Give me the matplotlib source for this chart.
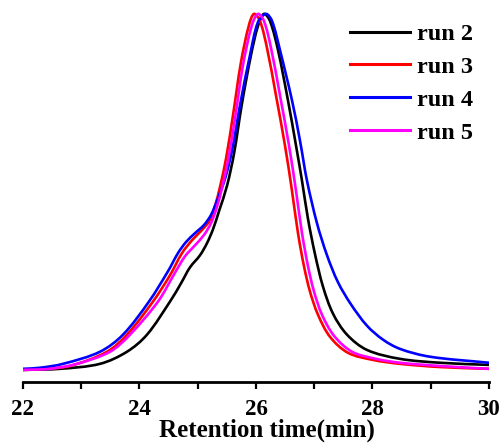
import numpy as np
import matplotlib
matplotlib.use("Agg")
import matplotlib.pyplot as plt
from matplotlib.path import Path
from matplotlib.patches import PathPatch
from matplotlib.lines import Line2D
from matplotlib.ticker import MultipleLocator

plt.rcParams['font.family'] = ['Liberation Serif', 'DejaVu Serif']
plt.rcParams['font.weight'] = 'bold'

# Retention time (min) and normalized RI signal
t_run2 = [22.000, 22.635, 23.322, 23.785, 24.129, 24.524, 24.712, 24.867, 25.039,
          25.159, 25.262, 25.365, 25.502, 25.622, 25.760, 25.914, 26.034, 26.137,
          26.240, 26.378, 26.549, 26.687, 26.790, 26.893, 27.013, 27.150, 27.322,
          27.562, 27.906, 28.472, 29.159, 30.000]
y_run2 = [0.000, 0.003, 0.017, 0.051, 0.099, 0.192, 0.243, 0.288, 0.322,
          0.356, 0.395, 0.446, 0.517, 0.607, 0.749, 0.884, 0.966, 1.000,
          0.980, 0.898, 0.757, 0.630, 0.531, 0.424, 0.325, 0.234, 0.158,
          0.099, 0.056, 0.031, 0.020, 0.014]

t_run3 = [22.000, 22.378, 22.807, 23.442, 23.785, 24.232, 24.524, 24.730, 24.901,
          25.073, 25.210, 25.296, 25.382, 25.485, 25.605, 25.742, 25.880, 25.966,
          26.069, 26.189, 26.343, 26.498, 26.618, 26.721, 26.824, 26.927, 27.064,
          27.270, 27.579, 28.009, 28.472, 29.159, 30.000]
y_run3 = [0.000, 0.003, 0.011, 0.051, 0.099, 0.192, 0.266, 0.328, 0.364,
          0.393, 0.421, 0.460, 0.514, 0.593, 0.715, 0.864, 0.969, 1.000,
          0.980, 0.904, 0.771, 0.630, 0.503, 0.384, 0.291, 0.220, 0.155,
          0.093, 0.048, 0.028, 0.017, 0.008, 0.003]

t_run4 = [22.000, 22.292, 22.687, 23.322, 23.717, 24.163, 24.489, 24.661, 24.798,
          24.953, 25.107, 25.227, 25.330, 25.468, 25.588, 25.725, 25.897, 26.034,
          26.172, 26.275, 26.412, 26.618, 26.755, 26.876, 27.047, 27.219, 27.408,
          27.631, 27.906, 28.180, 28.472, 28.987, 30.000]
y_run4 = [0.003, 0.006, 0.017, 0.051, 0.099, 0.192, 0.277, 0.328, 0.359,
          0.384, 0.407, 0.435, 0.475, 0.537, 0.616, 0.743, 0.884, 0.977,
          1.000, 0.980, 0.898, 0.757, 0.644, 0.531, 0.412, 0.322, 0.246,
          0.184, 0.124, 0.085, 0.059, 0.037, 0.020]

t_run5 = [22.000, 22.464, 22.927, 23.494, 23.837, 24.318, 24.592, 24.781, 24.953,
          25.107, 25.227, 25.330, 25.416, 25.519, 25.640, 25.777, 25.931, 26.034,
          26.137, 26.258, 26.412, 26.567, 26.687, 26.790, 26.893, 26.996, 27.133,
          27.339, 27.648, 28.060, 28.472, 29.159, 30.000]
y_run5 = [0.000, 0.003, 0.017, 0.051, 0.099, 0.192, 0.268, 0.319, 0.350,
          0.379, 0.412, 0.458, 0.511, 0.588, 0.706, 0.856, 0.969, 1.000,
          0.980, 0.904, 0.771, 0.630, 0.503, 0.384, 0.291, 0.220, 0.155,
          0.096, 0.051, 0.031, 0.020, 0.011, 0.003]

runs = [
    ("run 2", t_run2, y_run2, "black"),
    ("run 3", t_run3, y_run3, "#ff0000"),
    ("run 4", t_run4, y_run4, "#0000ff"),
    ("run 5", t_run5, y_run5, "#ff00ff"),
]


def smooth_path(t, y, sx=58.25, sy=354.0):
    """Cubic Bezier path through the read points (chord-length tangents)."""
    p = np.column_stack([np.asarray(t) * sx, np.asarray(y) * sy])
    d = np.linalg.norm(np.diff(p, axis=0), axis=1)
    n = len(p)
    m = np.zeros_like(p)
    m[0] = (p[1] - p[0]) / d[0]
    m[-1] = (p[-1] - p[-2]) / d[-1]
    for i in range(1, n - 1):
        m[i] = (p[i + 1] - p[i - 1]) / (d[i - 1] + d[i])
    verts = [p[0]]
    codes = [Path.MOVETO]
    for i in range(n - 1):
        verts += [p[i] + m[i] * d[i] / 3, p[i + 1] - m[i + 1] * d[i] / 3, p[i + 1]]
        codes += [Path.CURVE4] * 3
    verts = np.array(verts) / [sx, sy]
    return Path(verts, codes)


fig = plt.figure(figsize=(5.02, 4.45), dpi=100)
ax = fig.add_axes([0.0458, 0.1416, 0.9283, 0.8472])

handles = []
for label, t, y, color in runs:
    ax.add_patch(PathPatch(smooth_path(t, y), fill=False, edgecolor=color,
                           linewidth=1.9, capstyle="round", joinstyle="round"))
    handles.append(Line2D([], [], color=color, linewidth=2.2, label=label))

ax.set_xlim(22, 30)
ax.set_ylim(-0.034, 1.025)

# only the bottom axis is shown
for side in ("top", "left", "right"):
    ax.spines[side].set_visible(False)
ax.spines["bottom"].set_linewidth(2.0)
ax.set_yticks([])

ax.xaxis.set_major_locator(MultipleLocator(2))
ax.xaxis.set_minor_locator(MultipleLocator(1))
ax.tick_params(axis="x", which="both", direction="out", length=5, width=1.6,
               labelsize=16.5, pad=7)
for lbl in ax.get_xticklabels():
    lbl.set_fontweight("bold")

ax.set_xlabel("Retention time(min)", fontsize=18, fontweight="bold")
ax.xaxis.set_label_coords(0.524, -0.097)

leg = fig.legend(handles=handles, loc="upper left", frameon=False, fontsize=17.5,
                 handlelength=2.47, handletextpad=0.29, labelspacing=0.45,
                 borderpad=0, borderaxespad=0,
                 bbox_to_anchor=(350 / 502, 1 - 23 / 445))
for txt in leg.get_texts():
    txt.set_fontweight("bold")

fig.savefig("out.png", dpi=100)
